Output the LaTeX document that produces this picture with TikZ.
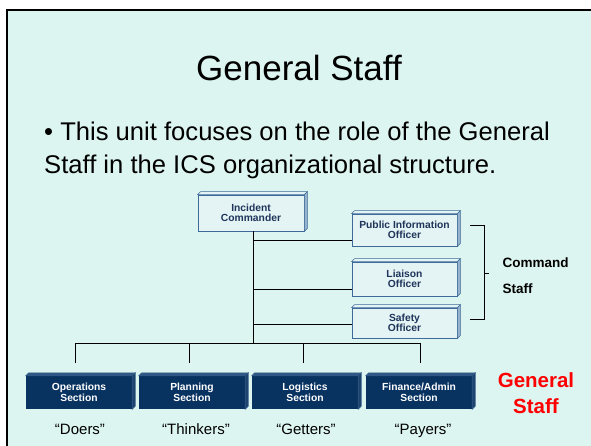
\documentclass[tikz,border=0pt]{standalone}
\usepackage{fontspec}
\setmainfont{Liberation Sans}
\usetikzlibrary{calc}

\definecolor{slidebg}{RGB}{220,245,240}
\definecolor{boxline}{RGB}{62,106,154}
\definecolor{boxfill}{RGB}{228,244,244}
\definecolor{boxside}{RGB}{150,178,204}
\definecolor{boxtext}{RGB}{30,52,90}
\definecolor{secfill}{RGB}{8,50,96}
\definecolor{sectop}{RGB}{48,88,132}
\definecolor{secside}{RGB}{28,66,110}
\definecolor{genred}{RGB}{255,0,0}

\tikzset{
  staffbox/.style={draw=boxline, line width=0.8pt, fill=boxfill, text=boxtext,
    font=\fontsize{10.3}{10.6}\selectfont\bfseries, align=center, inner sep=0pt,
    minimum width=105pt},
  sectbox/.style={fill=secfill, text=white,
    font=\fontsize{10.3}{10.6}\selectfont\bfseries, align=center, inner sep=0pt,
    minimum width=106pt, minimum height=33pt},
  link/.style={line width=0.9pt, draw=black},
  saying/.style={font=\fontsize{15}{18}\selectfont, anchor=base},
  bodytext/.style={font=\fontsize{25.6}{30}\selectfont, anchor=base west, inner sep=0pt},
}

% raised top and right faces of a box node
\newcommand\bevelbox[4]{%
  \filldraw[fill=#2, draw=#4, line width=0.6pt] (#1.north west) -- ++(3,-3)
    -- ($(#1.north east)+(3,-3)$) -- (#1.north east) -- cycle;
  \filldraw[fill=#3, draw=#4, line width=0.6pt] (#1.north east) -- ++(3,-3)
    -- ($(#1.south east)+(3,-3)$) -- (#1.south east) -- cycle;}

\begin{document}
\begin{tikzpicture}[x=1pt, y=-1pt]
  \useasboundingbox (0,0) rectangle (591,446);
  \fill[white] (0,0) rectangle (591,446);
  \filldraw[fill=slidebg, draw=black, line width=2pt] (7,10) rectangle (610,470);

  % heading and bullet text
  \node[font=\fontsize{35}{40}\selectfont, anchor=base] (title) at (299,81) {General Staff};
  \node[bodytext] (line1) at (44,141) {• This unit focuses on the role of the General};
  \node[bodytext] (line2) at (44,174) {Staff in the ICS organizational structure.};

  % command post
  \node[staffbox, minimum width=106pt, minimum height=36pt] (ic) at (251,213)
    {Incident\\Commander};
  \bevelbox{ic}{boxfill}{boxside}{boxline}

  % command staff
  \node[staffbox, minimum height=32pt] (pio) at (404.5,230) {Public Information\\Officer};
  \node[staffbox, minimum height=34pt] (lia) at (404.5,279) {Liaison\\Officer};
  \node[staffbox, minimum height=30pt] (saf) at (404.5,323) {Safety\\Officer};
  \bevelbox{pio}{boxfill}{boxside}{boxline}
  \bevelbox{lia}{boxfill}{boxside}{boxline}
  \bevelbox{saf}{boxfill}{boxside}{boxline}

  % general staff sections
  \node[sectbox] (ops) at (79,392.5) {Operations\\Section};
  \node[sectbox] (pln) at (192,392.5) {Planning\\Section};
  \node[sectbox] (log) at (305,392.5) {Logistics\\Section};
  \node[sectbox] (fin) at (419,392.5) {Finance/Admin\\Section};
  \bevelbox{ops}{sectop}{secside}{sectop}
  \bevelbox{pln}{sectop}{secside}{sectop}
  \bevelbox{log}{sectop}{secside}{sectop}
  \bevelbox{fin}{sectop}{secside}{sectop}

  % trunk and bus
  \coordinate (trunk) at (253,343);
  \coordinate (d1) at (75,363);
  \coordinate (d2) at (189,363);
  \coordinate (d3) at (303,363);
  \coordinate (d4) at (420,363);
  \draw[link] (ic.south -| trunk) -- (trunk);
  \draw[link] (trunk |- 0,240) -- (pio.west |- 0,240);
  \draw[link] (trunk |- 0,289) -- (lia.west |- 0,289);
  \draw[link] (trunk |- 0,324) -- (saf.west |- 0,324);
  \draw[link] (d1) -- (d1 |- trunk) -- (d4 |- trunk) -- (d4);
  \draw[link] (d2 |- trunk) -- (d2);
  \draw[link] (d3 |- trunk) -- (d3);

  % bracket for the command staff
  \coordinate (bt) at (470,225);
  \coordinate (bb) at (470,319);
  \coordinate (bm) at (484,273);
  \draw[link] (bt) -- (bt -| bm) -- (bb -| bm) -- (bb);
  \draw[link] (bm) -- ++(5,0) coordinate (btip);
  \node[font=\fontsize{13.5}{26}\selectfont\bfseries, anchor=west, align=left]
    (cmd) at (499,276) {Command\\Staff};

  % general staff label
  \node[font=\fontsize{20.5}{26}\selectfont\bfseries, text=genred, align=center]
    (gen) at (536,393) {General\\Staff};

  % nicknames
  \node[saying] (q1) at (80,434) {“Doers”};
  \node[saying] (q2) at (196,434) {“Thinkers”};
  \node[saying] (q3) at (306,434) {“Getters”};
  \node[saying] (q4) at (423,434) {“Payers”};
\end{tikzpicture}
\end{document}
